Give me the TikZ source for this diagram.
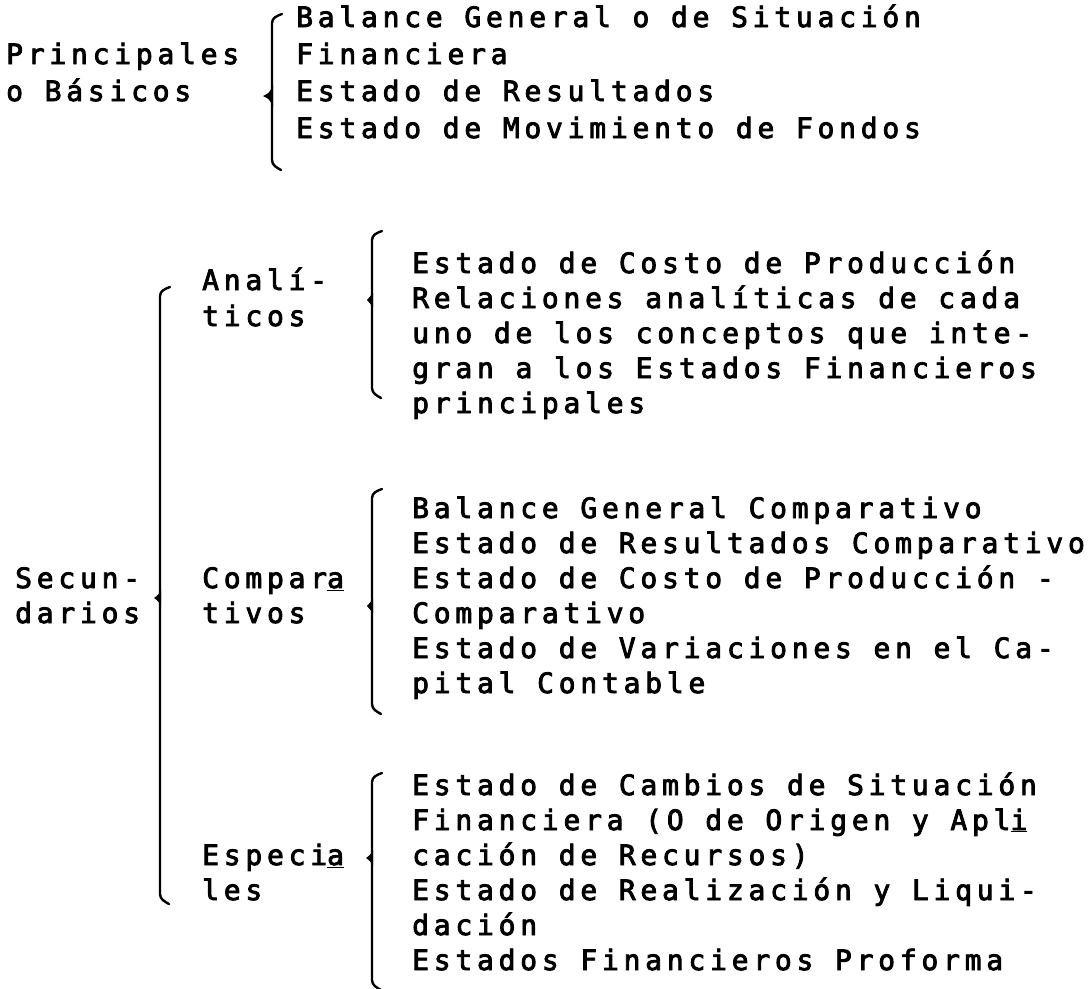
\documentclass[tikz,border=0pt]{standalone}
\usepackage{fontspec}
\newfontfamily\tw[LetterSpace=17,FakeBold=3]{DejaVu Sans Mono}
\tikzset{
  txt/.style={anchor=base west, inner sep=0pt, font=\tw\fontsize{28}{30}\selectfont},
  brk/.style={line width=2.4pt, line cap=round, line join=round},
}
% bracket: x, top, bottom, mid, point length
\newcommand{\bracketat}[5]{%
  \draw[brk] (#1+10,#2-5) to[out=200,in=90] (#1,#2+4) -- (#1,#3-4) to[out=-90,in=150] (#1+9,#3+6);
  \fill (#1+1,#4-#5-2) .. controls (#1-#5*0.3,#4-3) .. (#1-#5,#4)
        .. controls (#1-#5*0.3,#4+3) .. (#1+1,#4+#5+2) -- cycle;
}
\begin{document}
\begin{tikzpicture}[x=1pt,y=-1pt]
\useasboundingbox (0,0) rectangle (1092,988);
% --- top block
\node[txt] (p1) at (6,64) {Principales};
\node[txt] (p2) at (6,101) {o Básicos};
\bracketat{272}{19}{164}{96}{9}
\node[txt] (t1) at (296,27) {Balance General o de Situación};
\node[txt] (t2) at (296,64) {Financiera};
\node[txt] (t3) at (296,101) {Estado de Resultados};
\node[txt] (t4) at (296,138) {Estado de Movimiento de Fondos};
% --- secundarios
\node[txt] (s1) at (15,588) {Secun-};
\node[txt] (s2) at (15,623) {darios};
\bracketat{160}{292}{898}{598}{6}
% analiticos
\node[txt] (a1) at (202,290) {Analí-};
\node[txt] (a2) at (202,326) {ticos};
\bracketat{372}{236}{392}{300}{5}
\node[txt] (a3) at (412,273) {Estado de Costo de Producción};
\node[txt] (a4) at (412,308) {Relaciones analíticas de cada};
\node[txt] (a5) at (412,343) {uno de los conceptos que inte-};
\node[txt] (a6) at (412,378) {gran a los Estados Financieros};
\node[txt] (a7) at (412,413) {principales};
% comparativos
\node[txt] (c1) at (202,588) {Compar\underline{a}};
\node[txt] (c2) at (202,623) {tivos};
\bracketat{372}{494}{708}{606}{5}
\node[txt] (c3) at (412,518) {Balance General Comparativo};
\node[txt] (c4) at (412,553) {Estado de Resultados Comparativo};
\node[txt] (c5) at (412,588) {Estado de Costo de Producción -};
\node[txt] (c6) at (412,623) {Comparativo};
\node[txt] (c7) at (412,658) {Estado de Variaciones en el Ca-};
\node[txt] (c8) at (412,693) {pital Contable};
% especiales
\node[txt] (e1) at (202,865) {Especi\underline{a}};
\node[txt] (e2) at (202,900) {les};
\bracketat{372}{778}{984}{858}{6}
\node[txt] (e3) at (412,795) {Estado de Cambios de Situación};
\node[txt] (e4) at (412,830) {Financiera (O de Origen y Apl\underline{i}};
\node[txt] (e5) at (412,865) {cación de Recursos)};
\node[txt] (e6) at (412,900) {Estado de Realización y Liqui-};
\node[txt] (e7) at (412,935) {dación};
\node[txt] (e8) at (412,970) {Estados Financieros Proforma};
\end{tikzpicture}
\end{document}
